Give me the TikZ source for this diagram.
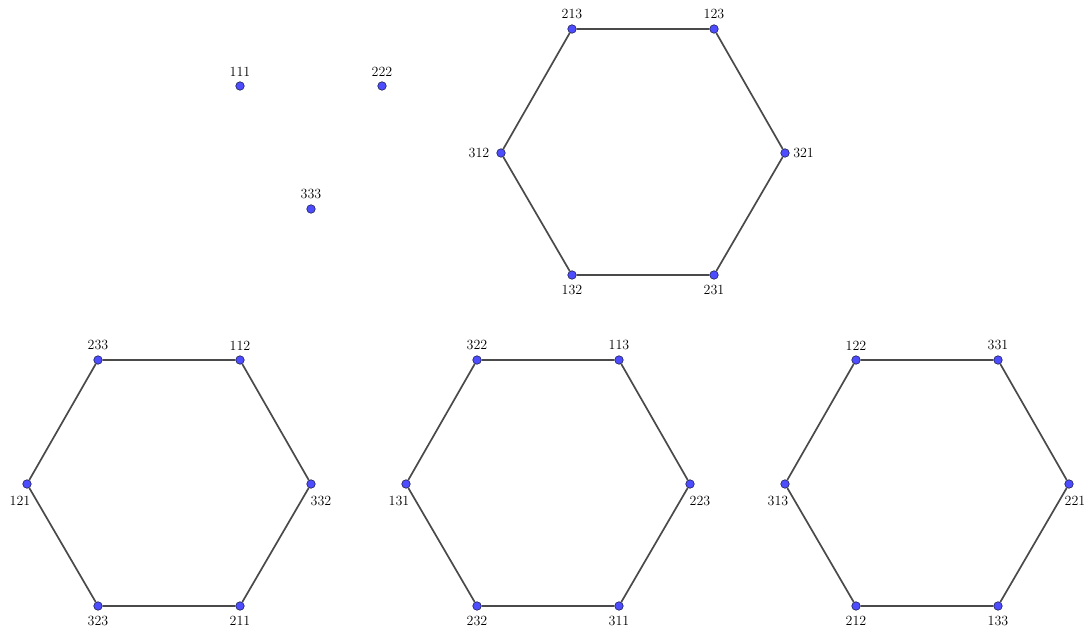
\documentclass[tikz,border=0pt]{standalone}
\usepackage{xcolor}
\usepackage{tikz}
\usetikzlibrary{positioning}
\definecolor{dotblue}{HTML}{4D4DFF}
\definecolor{dotrim}{HTML}{1F1F55}
\definecolor{edgegray}{HTML}{4A4A4A}
\tikzset{
    vert/.style={
        circle, draw=dotrim, fill=dotblue, line width=0.6pt,
        inner sep=0pt, minimum size=8.5pt
    },
    hexedge/.style={draw=edgegray, line width=1.7pt},
    every label/.style={font=\fontsize{14}{16}\selectfont, inner sep=5pt},
    labsw/.style={xshift=-7pt, yshift=-2pt},
    labse/.style={xshift=10pt, yshift=-2pt},
    labe/.style={xshift=-1.5pt},
    labw/.style={xshift=-2pt},
}

\begin{document}
\begin{tikzpicture}[x=1pt, y=-1pt]
    \useasboundingbox (0,0) rectangle (1087,628);
    % isolated points
    \node[vert, label=above:111] (p111) at (240,86) {};
    \node[vert, label=above:222] (p222) at (382,86) {};
    \node[vert, label=above:333] (p333) at (311,209) {};
    % top hexagon
    \node[vert, label=above:213] (p213) at (572,29) {};
    \node[vert, label=above:123] (p123) at (714,29) {};
    \node[vert, label={[labe]right:321}] (p321) at (785,153) {};
    \node[vert, label=below:231] (p231) at (714,275) {};
    \node[vert, label=below:132] (p132) at (572,275) {};
    \node[vert, label={[labw]left:312}] (p312) at (501,153) {};
    \draw[hexedge] (p213) -- (p123) -- (p321) -- (p231) -- (p132) -- (p312) -- (p213);
    % bottom left hexagon
    \node[vert, label=above:233] (p233) at (98,360) {};
    \node[vert, label=above:112] (p112) at (240,360) {};
    \node[vert, label={[labse]below:332}] (p332) at (311,484) {};
    \node[vert, label=below:211] (p211) at (240,606) {};
    \node[vert, label=below:323] (p323) at (98,606) {};
    \node[vert, label={[labsw]below:121}] (p121) at (27,484) {};
    \draw[hexedge] (p233) -- (p112) -- (p332) -- (p211) -- (p323) -- (p121) -- (p233);
    % bottom middle hexagon
    \node[vert, label=above:322] (p322) at (477,360) {};
    \node[vert, label=above:113] (p113) at (619,360) {};
    \node[vert, label={[labse]below:223}] (p223) at (690,484) {};
    \node[vert, label=below:311] (p311) at (619,606) {};
    \node[vert, label=below:232] (p232) at (477,606) {};
    \node[vert, label={[labsw]below:131}] (p131) at (406,484) {};
    \draw[hexedge] (p322) -- (p113) -- (p223) -- (p311) -- (p232) -- (p131) -- (p322);
    % bottom right hexagon
    \node[vert, label=above:122] (p122) at (856,360) {};
    \node[vert, label=above:331] (p331) at (998,360) {};
    \node[vert, label={[labse, xshift=-4pt]below:221}] (p221) at (1069,484) {};
    \node[vert, label=below:133] (p133) at (998,606) {};
    \node[vert, label=below:212] (p212) at (856,606) {};
    \node[vert, label={[labsw]below:313}] (p313) at (785,484) {};
    \draw[hexedge] (p122) -- (p331) -- (p221) -- (p133) -- (p212) -- (p313) -- (p122);
\end{tikzpicture}
\end{document}
